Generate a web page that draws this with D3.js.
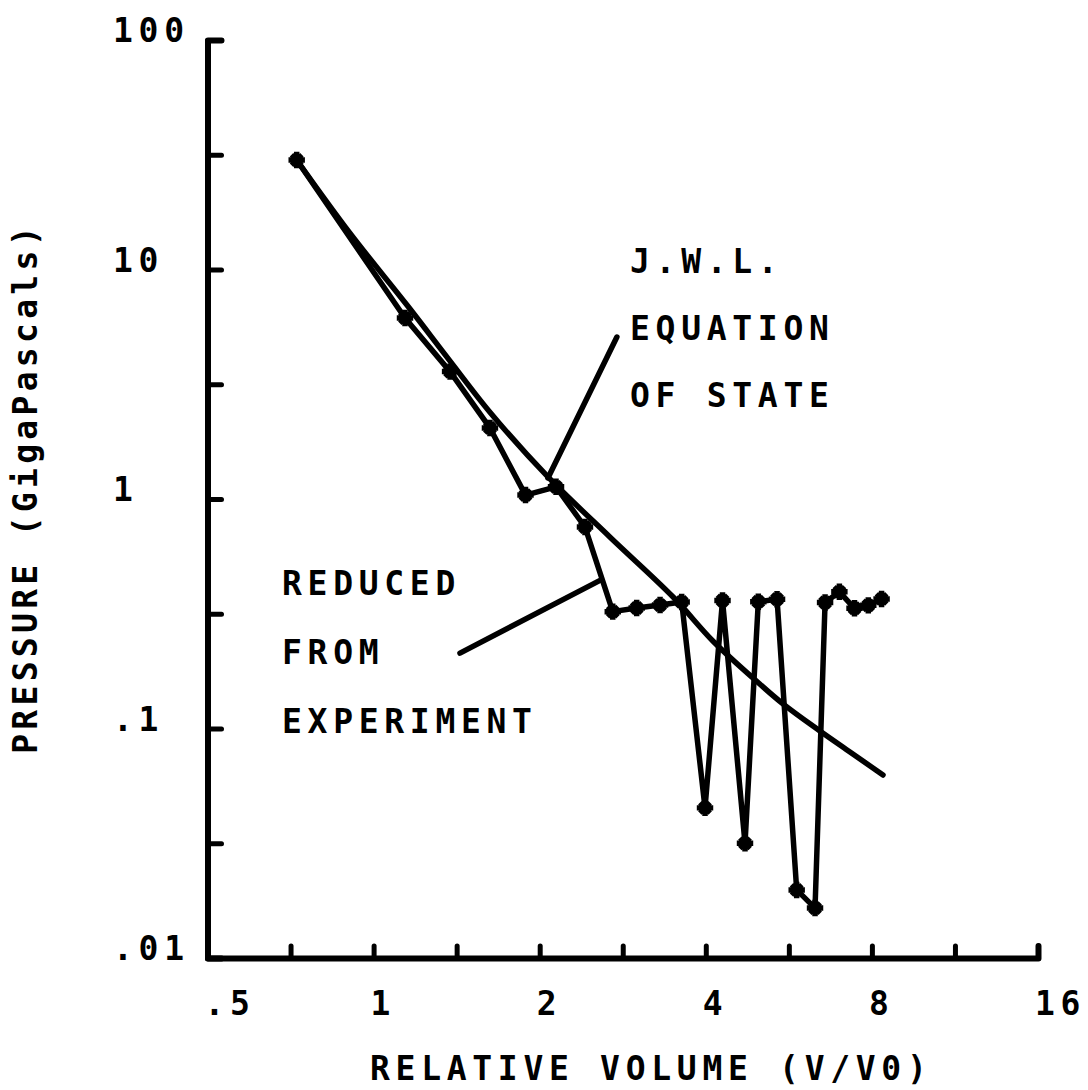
<!DOCTYPE html>
<html><head><meta charset="utf-8">
<script src="https://cdn.jsdelivr.net/npm/d3@7"></script>
<style>
html,body{margin:0;padding:0;background:#fff;}
svg{display:block;}
text{font-family:"DejaVu Sans Mono",monospace;font-weight:bold;fill:#000;}
</style></head><body>
<svg id="chart" width="1088" height="1090"></svg>
<script>
// Experimental points (relative volume V/V0, pressure GPa)
const volume   = [0.7255, 1.14, 1.376, 1.625, 1.885, 2.141, 2.416, 2.713, 2.998, 3.305, 3.617, 3.987, 4.289, 4.711, 4.98, 5.385, 5.845, 6.31, 6.58, 6.985, 7.44, 7.88, 8.33];
const pressure = [30.0, 6.15, 3.59, 2.04, 1.04, 1.13, 0.755, 0.323, 0.335, 0.345, 0.356, 0.0451, 0.361, 0.0316, 0.357, 0.366, 0.0198, 0.0165, 0.354, 0.394, 0.334, 0.344, 0.367];
// J.W.L. equation of state curve
const jwlVolume   = [0.7255, 0.906, 1.155, 1.376, 1.625, 2.062, 2.68, 3.49, 4.12, 4.87, 5.52, 6.44, 7.30, 8.38];
const jwlPressure = [30.0, 14.4, 6.9, 3.99, 2.39, 1.26, 0.683, 0.374, 0.2406, 0.166, 0.128, 0.0975, 0.079, 0.0627];
// Axes
const xTickValues = [0.5, 0.7071, 1, 1.4142, 2, 2.8284, 4, 5.6569, 8, 11.3137, 16];
const xLabelValues = [0.5, 1, 2, 4, 8, 16];
const xLabelText = [".5", "1", "2", "4", "8", "16"];
const yTickValues = [0.01, 0.03162, 0.1, 0.3162, 1, 3.162, 10, 31.62, 100];
const yLabelValues = [100, 10, 1, 0.1, 0.01];
const yLabelText = ["100", "10", "1", ".1", ".01"];
const xTitle = "RELATIVE VOLUME (V/V0)";
const yTitle = "PRESSURE (GigaPascals)";
const jwlLabel = ["J.W.L.", "EQUATION", "OF STATE"];
const expLabel = ["REDUCED", "FROM", "EXPERIMENT"];
// leader lines, in data units [V, P]
const jwlLeader = [[2.76, 5.08], [2.07, 1.235]];
const expLeader = [[1.434, 0.213], [2.583, 0.444]];

const svg = d3.select("#chart");
const x = d3.scaleLog().base(2).domain([0.5, 16]).range([207.5, 1038]);
const y = d3.scaleLog().base(10).domain([0.01, 100]).range([958, 40]);

const FS = 33, LS = 5.7;

// axes
const gx = svg.append("g").attr("transform", "translate(0,958)")
  .call(d3.axisBottom(x).tickValues(xTickValues).tickSize(-12).tickSizeOuter(-12).tickFormat(""));
const gy = svg.append("g").attr("transform", "translate(207.5,0)")
  .call(d3.axisLeft(y).tickValues(yTickValues).tickSize(-14).tickSizeOuter(-14).tickFormat(""));
[gx, gy].forEach(g => {
  g.select(".domain").attr("stroke", "#000").attr("stroke-width", 6).attr("fill", "none")
    .attr("stroke-linejoin", "round").attr("stroke-linecap", "round");
  g.selectAll(".tick line").attr("stroke", "#000").attr("stroke-width", 5).attr("stroke-linecap", "round");
});

// tick labels
svg.append("g").selectAll("text").data(xLabelValues).join("text")
  .attr("x", d => x(d) - 3).attr("y", 1015)
  .attr("font-size", FS).attr("letter-spacing", LS)
  .text((d, i) => xLabelText[i]);
svg.append("g").selectAll("text").data(yLabelValues).join("text")
  .attr("x", 113).attr("y", d => y(d) + 2)
  .attr("font-size", FS).attr("letter-spacing", LS)
  .text((d, i) => yLabelText[i]);

// axis titles
svg.append("text").attr("x", 370).attr("y", 1080)
  .attr("font-size", FS).attr("letter-spacing", LS).text(xTitle);
svg.append("text").attr("transform", "translate(37,488) rotate(-90)")
  .attr("text-anchor", "middle").attr("font-size", FS).attr("letter-spacing", 4.3).text(yTitle);

// J.W.L. curve
const jwl = jwlVolume.map((v, i) => [v, jwlPressure[i]]);
svg.append("path").datum(jwl)
  .attr("d", d3.line().x(d => x(d[0])).y(d => y(d[1])).curve(d3.curveCatmullRom.alpha(0.5)))
  .attr("fill", "none").attr("stroke", "#000").attr("stroke-width", 5.5)
  .attr("stroke-linecap", "round").attr("stroke-linejoin", "round");

// experimental line
const exp = volume.map((v, i) => [v, pressure[i]]);
svg.append("path").datum(exp)
  .attr("d", d3.line().x(d => x(d[0])).y(d => y(d[1])))
  .attr("fill", "none").attr("stroke", "#000").attr("stroke-width", 5.5)
  .attr("stroke-linecap", "round").attr("stroke-linejoin", "round");

// markers
const mk = svg.append("g").selectAll("g").data(exp).join("g")
  .attr("transform", d => `translate(${x(d[0])},${y(d[1])})`);
mk.append("circle").attr("r", 6.5).attr("fill", "#000");
mk.append("path").attr("d", d3.symbol(d3.symbolCross, 150)()).attr("fill", "#000");
mk.append("path").attr("d", d3.symbol(d3.symbolCross, 120)()).attr("transform", "rotate(45)").attr("fill", "#000");

// leader lines
[jwlLeader, expLeader].forEach(l => {
  svg.append("line")
    .attr("x1", x(l[0][0])).attr("y1", y(l[0][1]))
    .attr("x2", x(l[1][0])).attr("y2", y(l[1][1]))
    .attr("stroke", "#000").attr("stroke-width", 5.5).attr("stroke-linecap", "round");
});

// annotation text
svg.append("g").selectAll("text").data(jwlLabel).join("text")
  .attr("x", 630).attr("y", (d, i) => 273 + i * 67)
  .attr("font-size", FS).attr("letter-spacing", LS).text(d => d);
svg.append("g").selectAll("text").data(expLabel).join("text")
  .attr("x", 282).attr("y", (d, i) => 595 + i * 69)
  .attr("font-size", FS).attr("letter-spacing", LS).text(d => d);
</script>
</body></html>
